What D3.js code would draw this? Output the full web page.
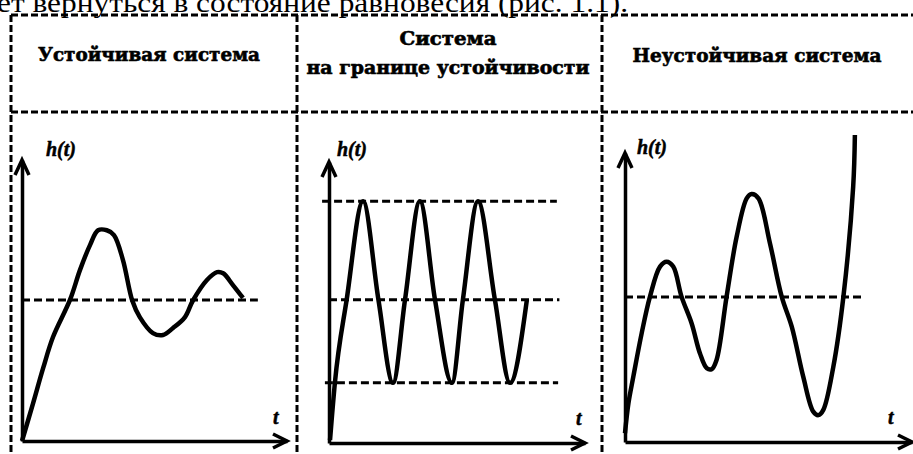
<!DOCTYPE html>
<html>
<head>
<meta charset="utf-8">
<script src="https://cdn.jsdelivr.net/npm/d3@7"></script>
<style>
  html, body { margin: 0; padding: 0; background: #fff; }
  svg { display: block; }
</style>
</head>
<body>
<svg id="chart" width="913" height="454"></svg>
<script>
// ---- data -------------------------------------------------------------
const leadText = "ет вернуться в состояние равновесия (рис. 1.1).";

const panelTitles = [
  ["Устойчивая система"],
  ["Система", "на границе устойчивости"],
  ["Неустойчивая система"]
];
const yLabel = "h(t)";
const xLabel = "t";

// stable system: damped oscillation around the steady level
const stableT = [0, 4.2, 8, 11.7, 18.1, 21.9, 25.7, 28.7, 32, 34.7, 38.1, 41.6, 44.5, 49.4, 53.2, 57, 61.5, 64.5, 69.8, 73.6, 75.9, 79.6, 83.4];
const stableH = [0, 13.5, 26, 37, 50.2, 60.9, 69.8, 75, 75, 73.3, 64.4, 50, 44, 38.4, 37.7, 40.2, 44.1, 50, 57.3, 60.1, 59.7, 55.5, 50.9];
const stableLevels = [50.2];

// system on the stability boundary: undamped oscillation
const marginalT = [0.4, 2.3, 6.9, 13.3, 19.3, 25, 29.7, 35.5, 41.4, 48, 52.3, 58.2, 64.8, 70.7, 77.3];
const marginalH = [1, 21.4, 51, 86, 51, 21.4, 51, 86, 51, 21.4, 51, 86, 51, 21.4, 51];
const marginalLevels = [86, 51, 21.4];

// unstable system: growing oscillation
const unstableT = [0, 1.2, 2.9, 5.8, 8.7, 12.2, 14.5, 16.8, 19.7, 23.2, 26.1, 28.5, 30.2, 31.9, 35.4, 38.9, 42.4, 44.1, 46.5, 50.5, 54.6, 58.1, 62.1, 65.6, 67.4, 69.1, 72.6, 76.1, 79.5, 80.1];
const unstableH = [3, 13.4, 22.6, 37.6, 50.3, 60.7, 62.4, 60.7, 50.3, 41.1, 30.7, 25.5, 25.2, 28.4, 50.3, 71, 84.3, 85.8, 84.3, 68.8, 50.3, 39.9, 22.6, 10.5, 9.3, 11.1, 26.1, 50.3, 88.3, 106.2];
const unstableLevels = [50.2];

// ---- layout -----------------------------------------------------------
const svg = d3.select("#chart");
svg.append("rect").attr("width", 913).attr("height", 454).attr("fill", "#fff");

const BORDER_DASH = "7,3";
const LEVEL_DASH = "8,4";
const frame = { left: 11, top: 15, right: 913, bottom: 454, header: 112, cols: [297, 602] };
const BODY_FONT = "Liberation Serif";
const TITLE_FONT = "DejaVu Serif";

// running text above the table (continues from the previous page line)
svg.append("text")
  .style("font-family", BODY_FONT)
  .attr("x", -3).attr("y", 12)
  .attr("font-size", 28)
  .attr("textLength", 631).attr("lengthAdjust", "spacingAndGlyphs")
  .attr("fill", "#000")
  .text(leadText);

// table grid (dashed)
const grid = svg.append("g")
  .attr("stroke", "#000").attr("stroke-width", 3)
  .attr("stroke-dasharray", BORDER_DASH).attr("fill", "none");
grid.append("line").attr("x1", frame.left).attr("x2", frame.right).attr("y1", frame.top).attr("y2", frame.top);
grid.append("line").attr("x1", frame.left).attr("x2", frame.right).attr("y1", frame.header).attr("y2", frame.header);
[frame.left, ...frame.cols].forEach(x => {
  grid.append("line").attr("x1", x).attr("x2", x).attr("y1", frame.top).attr("y2", frame.bottom);
});

// column titles (heavy bold, slightly stroked)
const titleSpecs = [
  [{ x: 149, y: 61, w: 222 }],
  [{ x: 448, y: 45, w: 97 }, { x: 448, y: 74, w: 283 }],
  [{ x: 757, y: 62, w: 249 }]
];
panelTitles.forEach((lines, i) => {
  lines.forEach((line, j) => {
    const s = titleSpecs[i][j];
    svg.append("text")
      .style("font-family", TITLE_FONT)
      .attr("x", s.x).attr("y", s.y)
      .attr("text-anchor", "middle")
      .attr("font-weight", "bold")
      .attr("font-size", 18)
      .attr("textLength", s.w).attr("lengthAdjust", "spacingAndGlyphs")
      .attr("fill", "#000")
      .attr("stroke", "#000").attr("stroke-width", 0.6)
      .text(line);
  });
});

// ---- panels -----------------------------------------------------------
const panels = [
  { px: [22, 287], py: [441, 160], t: stableT, h: stableH, levels: stableLevels,
    levelSpan: [[0, 89]], curve: d3.curveCatmullRom.alpha(0.5),
    yLab: [46, 156], xLab: [273, 424] },
  { px: [329, 585], py: [443, 162], t: marginalT, h: marginalH, levels: marginalLevels,
    levelSpan: [[-2.7, 89], [0, 90], [-1.6, 89.5]], curve: d3.curveMonotoneX,
    yLab: [337, 156], xLab: [576, 425] },
  { px: [625, 912], py: [442, 153], t: unstableT, h: unstableH, levels: unstableLevels,
    levelSpan: [[0, 82.6]], curve: d3.curveCatmullRom.alpha(0.5),
    yLab: [637, 154], xLab: [888, 424] }
];

panels.forEach(p => {
  const x = d3.scaleLinear().domain([0, 100]).range(p.px);
  const y = d3.scaleLinear().domain([0, 100]).range(p.py);
  const g = svg.append("g");

  // axes: bare domain lines with arrowheads
  const yAxis = g.append("g").attr("transform", `translate(${x(0)},0)`)
    .call(d3.axisLeft(y).ticks(0).tickSize(0).tickSizeOuter(0));
  const xAxis = g.append("g").attr("transform", `translate(0,${y(0)})`)
    .call(d3.axisBottom(x).ticks(0).tickSize(0).tickSizeOuter(0));
  [yAxis, xAxis].forEach(a => a.select(".domain")
    .attr("stroke", "#000").attr("stroke-width", 3.5));

  const arrow = d3.line();
  g.append("path")
    .attr("d", arrow([[x(0) - 7, y(100) + 15], [x(0), y(100)], [x(0) + 7, y(100) + 15]]))
    .attr("fill", "none").attr("stroke", "#000").attr("stroke-width", 3.5)
    .attr("stroke-linejoin", "miter");
  g.append("path")
    .attr("d", arrow([[x(100) - 14, y(0) - 7], [x(100), y(0)], [x(100) - 14, y(0) + 7]]))
    .attr("fill", "none").attr("stroke", "#000").attr("stroke-width", 3.5)
    .attr("stroke-linejoin", "miter");

  // reference levels
  p.levels.forEach((lv, i) => {
    const span = p.levelSpan[i];
    g.append("line")
      .attr("x1", x(span[0])).attr("x2", x(span[1]))
      .attr("y1", y(lv)).attr("y2", y(lv))
      .attr("stroke", "#000").attr("stroke-width", 3)
      .attr("stroke-dasharray", LEVEL_DASH);
  });

  // response curve
  const pts = p.t.map((tv, i) => [tv, p.h[i]]);
  const line = d3.line().x(d => x(d[0])).y(d => y(d[1])).curve(p.curve);
  g.append("path")
    .attr("d", line(pts))
    .attr("fill", "none").attr("stroke", "#000").attr("stroke-width", 4.5)
    .attr("stroke-linejoin", "round").attr("stroke-linecap", "butt");

  // axis labels
  g.append("text")
    .style("font-family", BODY_FONT)
    .attr("x", p.yLab[0]).attr("y", p.yLab[1])
    .attr("font-weight", "bold").attr("font-style", "italic")
    .attr("font-size", 20)
    .attr("fill", "#000").attr("stroke", "#000").attr("stroke-width", 0.5)
    .text(yLabel);
  g.append("text")
    .style("font-family", BODY_FONT)
    .attr("x", p.xLab[0]).attr("y", p.xLab[1])
    .attr("font-weight", "bold").attr("font-style", "italic")
    .attr("font-size", 20)
    .attr("fill", "#000").attr("stroke", "#000").attr("stroke-width", 0.5)
    .text(xLabel);
});
</script>
</body>
</html>
